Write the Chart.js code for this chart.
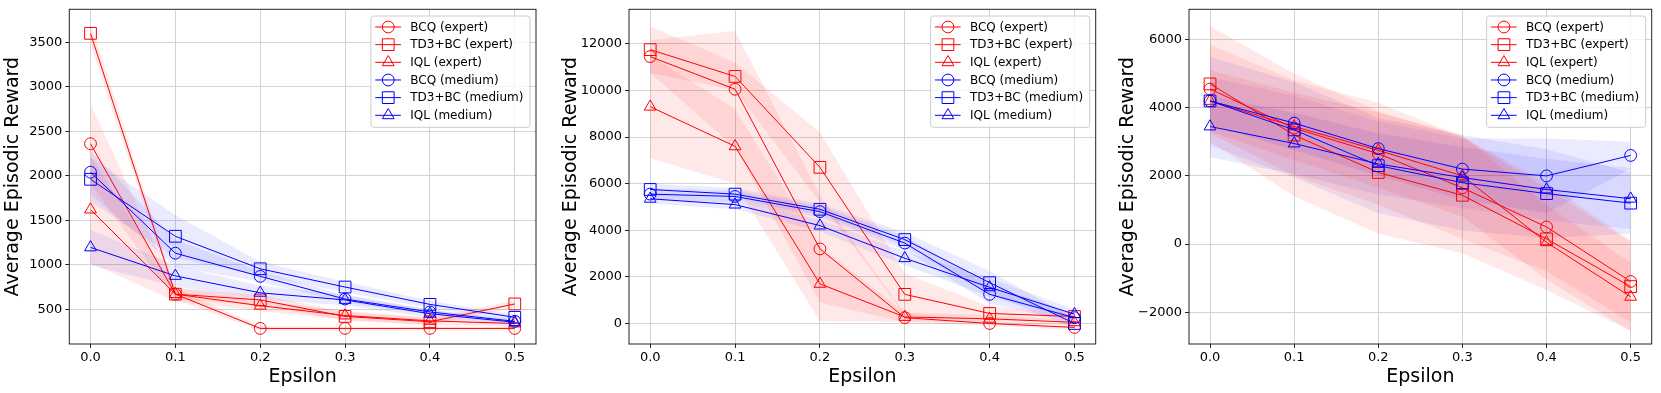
<!DOCTYPE html>
<html>
<head>
<meta charset="utf-8">
<script src="https://cdn.jsdelivr.net/npm/chart.js@4.4.0/dist/chart.umd.min.js"></script>
<style>
  html, body { margin: 0; padding: 0; background: #fff; }
  #figura { position: relative; width: 1661px; height: 393px; overflow: hidden; }
  .panel { position: absolute; top: 0; height: 393px; }
  canvas { display: block; }
</style>
</head>
<body>
<div id="figura">
  <div class="panel" style="left:0px"><canvas id="g1" width="560" height="393"></canvas></div>
  <div class="panel" style="left:560px"><canvas id="g2" width="560" height="393"></canvas></div>
  <div class="panel" style="left:1117px"><canvas id="g3" width="544" height="393"></canvas></div>
</div>
<script>
// Valores
const epsilons = [0.0, 0.1, 0.2, 0.3, 0.4, 0.5];
const xTicks = [0.0, 0.1, 0.2, 0.3, 0.4, 0.5];
const seriesLabels = ['BCQ (expert)', 'TD3+BC (expert)', 'IQL (expert)', 'BCQ (medium)', 'TD3+BC (medium)', 'IQL (medium)'];

// Panel 1
const panel1Mean = [
    [2360, 670, 285, 285, 285, 285],
    [3600, 670, 605, 420, 360, 560],
    [1620, 670, 540, 430, 370, 340],
    [2040, 1130, 870, 615, 470, 365],
    [1960, 1320, 955, 750, 555, 410],
    [1195, 875, 685, 605, 450, 355],
];
const panel1Std = [
    [450, 60, 25, 20, 20, 20],
    [120, 60, 60, 50, 40, 40],
    [600, 80, 60, 50, 40, 30],
    [250, 150, 60, 40, 30, 30],
    [250, 240, 80, 60, 40, 30],
    [200, 120, 80, 60, 40, 30],
];
const panel1YTicks = [500, 1000, 1500, 2000, 2500, 3000, 3500];

// Panel 2
const panel2Mean = [
    [11450, 10050, 3200, 250, 0, -170],
    [11750, 10600, 6700, 1250, 430, 300],
    [9300, 7600, 1700, 280, 200, 50],
    [5550, 5450, 4800, 3450, 1250, 250],
    [5750, 5550, 4900, 3600, 1750, 0],
    [5350, 5100, 4200, 2800, 1550, 400],
];
const panel2Std = [
    [700, 2500, 2300, 200, 100, 100],
    [1000, 600, 1500, 900, 300, 150],
    [2200, 1600, 1600, 200, 150, 100],
    [250, 250, 250, 300, 400, 200],
    [250, 250, 250, 300, 500, 200],
    [200, 200, 250, 300, 400, 200],
];
const panel2YTicks = [0, 2000, 4000, 6000, 8000, 10000, 12000];

// Panel 3
const panel3Mean = [
    [4550, 3400, 2650, 1650, 500, -1100],
    [4700, 3200, 2100, 1430, 150, -1250],
    [4200, 3450, 2750, 2000, 50, -1550],
    [4200, 3550, 2800, 2200, 2000, 2600],
    [4200, 3350, 2300, 1800, 1480, 1200],
    [3450, 2950, 2350, 1950, 1600, 1330],
];
const panel3Std = [
    [1300, 1400, 1500, 1500, 1300, 1200],
    [1700, 1800, 1800, 1700, 1500, 1300],
    [900, 1000, 1100, 1200, 1100, 1000],
    [700, 800, 800, 900, 1100, 400],
    [1300, 1400, 1400, 1400, 1300, 900],
    [900, 900, 900, 900, 900, 900],
];
const panel3YTicks = [-2000, 0, 2000, 4000, 6000];

// Estilos
const FUENTE = 'DejaVu Sans';
const colores = ['#ff0000', '#ff0000', '#ff0000', '#0000ff', '#0000ff', '#0000ff'];
const coloresBanda = ['rgba(255,0,0,0.09)', 'rgba(255,0,0,0.09)', 'rgba(255,0,0,0.09)',
    'rgba(0,0,255,0.08)', 'rgba(0,0,255,0.08)', 'rgba(0,0,255,0.08)'];
const marcadores = ['circle', 'rect', 'triangle', 'circle', 'rect', 'triangle'];
const radios = [5.9, 8.3, 6.8, 5.9, 8.3, 6.8];

function formatoNumero(v) {
    return v < 0 ? '\u2212' + Math.abs(v) : String(v);
}

/**
 * Construye líneas y bandas (media ± desviación) para un panel
 */
function construirDatasets(medias, desv) {
    const lineas = [];
    const bandas = [];
    medias.forEach((serie, i) => {
        lineas.push({
            label: seriesLabels[i],
            data: epsilons.map((x, k) => ({ x: x, y: serie[k] })),
            borderColor: colores[i],
            borderWidth: 1,
            pointStyle: marcadores[i],
            pointRadius: radios[i],
            pointBorderColor: colores[i],
            pointBackgroundColor: 'rgba(0,0,0,0)',
            pointBorderWidth: 1,
            fill: false,
            tension: 0,
            order: -i,
            esLinea: true,
        });
        bandas.push({
            label: '_inf',
            data: epsilons.map((x, k) => ({ x: x, y: serie[k] - desv[i][k] })),
            borderWidth: 0,
            borderColor: 'rgba(0,0,0,0)',
            pointRadius: 0,
            fill: false,
            order: 10,
        });
        bandas.push({
            label: '_sup',
            data: epsilons.map((x, k) => ({ x: x, y: serie[k] + desv[i][k] })),
            borderWidth: 0,
            borderColor: 'rgba(0,0,0,0)',
            backgroundColor: coloresBanda[i],
            pointRadius: 0,
            fill: '-1',
            order: 10,
        });
    });
    return lineas.concat(bandas);
}

// Marco completo alrededor del área del gráfico
const pluginMarco = {
    id: 'marco',
    afterDatasetsDraw(chart) {
        const { ctx, chartArea: a } = chart;
        ctx.save();
        ctx.strokeStyle = '#222';
        ctx.lineWidth = 1;
        ctx.strokeRect(a.left, a.top, a.right - a.left, a.bottom - a.top);
        ctx.restore();
    },
};

// Leyenda al estilo matplotlib, arriba a la derecha
const pluginLeyenda = {
    id: 'leyendaCaja',
    afterDraw(chart) {
        const { ctx, chartArea: a } = chart;
        const lineas = chart.data.datasets.filter(d => d.esLinea);
        ctx.save();
        ctx.font = '12px "' + FUENTE + '"';
        const anchoTexto = Math.max(...lineas.map(d => ctx.measureText(d.label).width));
        const ancho = 39.3 + anchoTexto + 6.6;
        const alto = 111.3;
        const x0 = a.right - 6 - ancho;
        const y0 = a.top + 6.7;
        ctx.beginPath();
        ctx.roundRect(x0, y0, ancho, alto, 3);
        ctx.fillStyle = 'rgba(255,255,255,0.8)';
        ctx.fill();
        ctx.strokeStyle = '#cccccc';
        ctx.lineWidth = 1;
        ctx.stroke();
        lineas.forEach((d, i) => {
            const y = y0 + 11 + i * 17.66;
            ctx.strokeStyle = d.borderColor;
            ctx.lineWidth = 1;
            ctx.beginPath();
            ctx.moveTo(x0 + 4.3, y);
            ctx.lineTo(x0 + 30, y);
            ctx.stroke();
            ctx.fillStyle = 'rgba(0,0,0,0)';
            Chart.helpers.drawPoint(ctx, {
                pointStyle: d.pointStyle, radius: d.pointRadius, rotation: 0, borderWidth: 1,
            }, x0 + 17.3, y);
            ctx.fillStyle = '#000';
            ctx.textBaseline = 'middle';
            ctx.textAlign = 'left';
            ctx.fillText(d.label, x0 + 39.3, y + 0.5);
        });
        ctx.restore();
    },
};

/**
 * Dibuja un panel completo
 */
function dibujarPanel(idCanvas, medias, desv, yTicks, yMin, yMax, ancho) {
    const canvas = document.getElementById(idCanvas);
    new Chart(canvas, {
        type: 'line',
        data: { datasets: construirDatasets(medias, desv) },
        options: {
            responsive: false,
            animation: false,
            layout: { padding: { top: 5, right: ancho.derecha, left: 0, bottom: 0 } },
            plugins: { legend: { display: false }, tooltip: { enabled: false } },
            scales: {
                x: {
                    type: 'linear',
                    min: -0.025,
                    max: 0.525,
                    afterBuildTicks: s => { s.ticks = xTicks.map(v => ({ value: v })); },
                    afterFit: s => { s.height = 49; s.paddingLeft = 0; s.paddingRight = 0; },
                    ticks: {
                        callback: v => v.toFixed(1),
                        font: { family: FUENTE, size: 13 },
                        color: '#000',
                        padding: 2,
                        maxRotation: 0,
                        autoSkip: false,
                    },
                    grid: { color: '#d3d3d3', lineWidth: 1, tickColor: '#222', tickLength: 4 },
                    border: { display: false },
                    title: {
                        display: true,
                        text: 'Epsilon',
                        color: '#000',
                        font: { family: FUENTE, size: 19 },
                        padding: { top: 0, bottom: 5 },
                    },
                },
                y: {
                    type: 'linear',
                    min: yMin,
                    max: yMax,
                    afterBuildTicks: s => { s.ticks = yTicks.map(v => ({ value: v })); },
                    afterFit: s => { s.width = ancho.eje; s.paddingTop = 0; s.paddingBottom = 0; },
                    ticks: {
                        callback: v => formatoNumero(v),
                        font: { family: FUENTE, size: 13 },
                        color: '#000',
                        padding: 3,
                        autoSkip: false,
                    },
                    grid: { color: '#d3d3d3', lineWidth: 1, tickColor: '#222', tickLength: 4 },
                    border: { display: false },
                    title: {
                        display: true,
                        text: 'Average Episodic Reward',
                        color: '#000',
                        font: { family: FUENTE, size: 19 },
                        padding: { top: ancho.titulo, bottom: 0 },
                    },
                },
            },
        },
        plugins: [pluginMarco, pluginLeyenda],
    });
}

dibujarPanel('g1', panel1Mean, panel1Std, panel1YTicks, 110, 3870, { eje: 69.3, derecha: 24, titulo: 2 });
dibujarPanel('g2', panel2Mean, panel2Std, panel2YTicks, -880, 13480, { eje: 69, derecha: 24.3, titulo: 0 });
dibujarPanel('g3', panel3Mean, panel3Std, panel3YTicks, -2935, 6890, { eje: 72, derecha: 5.3, titulo: 0 });
</script>
</body>
</html>
